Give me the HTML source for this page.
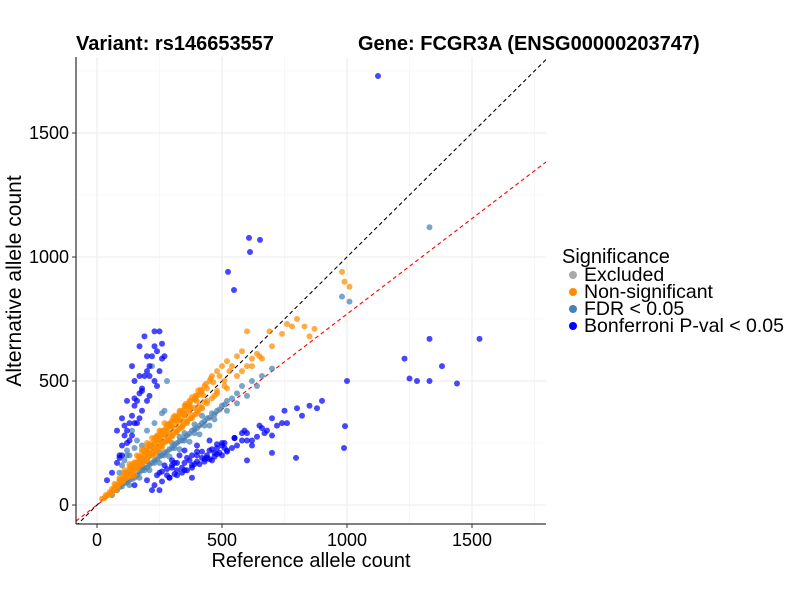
<!DOCTYPE html>
<html><head><meta charset="utf-8"><style>
body{margin:0;background:#fff;font-family:"Liberation Sans",sans-serif}
svg text{font-family:"Liberation Sans",sans-serif}
</style></head><body>
<svg id="chart" width="800" height="600" xmlns="http://www.w3.org/2000/svg">
<rect width="800" height="600" fill="#fff"/>
<g id="grid"></g>
<g id="lines"></g>
<g id="pts"></g>
<g id="axes"></g>
<text x="76" y="50" font-size="20" font-weight="bold">Variant: rs146653557</text>
<text x="358" y="50" font-size="20" font-weight="bold">Gene: FCGR3A (ENSG00000203747)</text>
<text x="311" y="567" font-size="20" text-anchor="middle">Reference allele count</text>
<text transform="translate(21,281) rotate(-90)" font-size="21" text-anchor="middle">Alternative allele count</text>
<g>
<text x="562" y="263" font-size="20">Significance</text>
<g><circle cx="573" cy="275" r="4" fill="#A9A9A9"/><text x="584" y="281" font-size="19.5">Excluded</text></g>
<g><circle cx="573" cy="292" r="4" fill="#FF8C00"/><text x="584" y="298" font-size="19.5">Non-significant</text></g>
<g><circle cx="573" cy="309" r="4" fill="#4682B4"/><text x="584" y="315" font-size="19.5">FDR &lt; 0.05</text></g>
<g><circle cx="573" cy="326" r="4" fill="#0000FF"/><text x="584" y="332" font-size="19.5">Bonferroni P-val &lt; 0.05</text></g>
</g>
</svg>
<script>
const xTicks=[0,500,1000,1500];
const yTicks=[0,500,1000,1500];
const minorTicks=[250,750,1250,1750];
const redSlope=0.77;
const orangeRef=[20,30,35,40,50,55,60,70,75,80,90,95,100,105,110,115,120,125,130,135,140,145,150,155,160,165,170,175,180,185,190,195,200,205,210,215,220,225,230,235,240,245,250,255,260,265,270,275,280,285,290,295,300,305,310,315,320,325,330,335,340,345,350,355,360,365,370,380,390,400,410,420,430,440,160,180,200,220,250,270,300,130,110,240,330,370,430,450,460,480,500,520,540,560,580,600,620,650,690,760,780,800,830,850,870,980,990,1010,560,600,640,400,420,350,310,290,260,150,80,60,140,200,230,
 45,65,85,100,120,140,160,175,190,210,225,240,255,270,285,300,315,330,345,360,375,390,405,420,440,460,480,
 70,90,110,130,150,170,190,210,230,250,270,290,310,330,350,370,390,410,
 100,120,140,160,180,200,220,240,260,280,300,320,340,360,380,400,
 140,165,190,215,240,265,290,315,340,365,390,415,440,465,490,510,530,
 120,145,170,195,220,245,270,295,320,345,370,395,
 90,115,135,155,175,195,215,235,255,275,295,315,335,355,375,395,415,435,455,
 105,125,150,175,200,225,250,275,300,325,350,375,400,425,
 180,205,230,255,280,305,330,355,380,405,200,240,280,320,360,
 580,620,660,700,740,520,470,510,480];
const orangeAlt=[25,28,40,38,52,48,65,68,80,75,95,88,105,98,118,108,125,115,140,128,150,135,160,145,170,155,182,165,190,172,200,185,215,195,222,205,235,212,245,222,255,232,262,240,275,250,282,258,295,268,300,278,315,285,322,295,335,305,340,315,352,325,362,335,372,345,380,360,392,380,400,390,415,420,200,225,250,270,300,330,340,165,140,280,370,420,480,500,520,540,560,580,560,600,620,700,590,600,700,730,720,750,720,680,710,940,900,880,520,560,610,440,460,400,360,260,230,120,60,45,115,180,200,
 40,60,78,92,112,130,148,162,178,196,210,224,238,252,266,280,294,308,322,336,350,364,378,392,410,430,450,
 85,108,130,152,172,195,215,238,258,280,300,322,342,365,385,405,425,445,
 95,112,130,148,165,185,202,220,240,258,276,295,312,330,350,368,
 165,195,222,248,275,300,328,355,380,405,430,455,470,495,520,500,540,
 130,155,182,210,235,262,290,318,345,372,398,425,
 100,128,150,172,195,218,240,262,285,308,330,352,375,398,420,442,465,488,510,
 112,132,160,185,212,238,262,290,315,340,365,392,418,442,
 215,242,270,298,325,352,380,408,435,462,230,275,315,355,400,
 540,560,590,640,690,470,440,480,460];
const fdrRef=[60,80,100,120,140,160,180,200,220,240,260,280,300,320,340,360,380,400,420,440,460,480,500,520,540,560,580,620,660,700,980,1010,1330,100,130,150,200,260,280,220,120,90,300,350,250,200,180,330,420,390,
 70,90,110,130,150,170,190,210,230,250,270,290,310,330,350,370,390,410,430,450,470,490,510,
 130,170,210,250,290,330,370,410,450,120,160,140,110,180,230,270,
 150,190,230,270,310,350,390,430,470,520,560,600,640];
const fdrAlt=[40,60,75,90,105,120,140,150,170,185,200,215,230,250,260,280,300,310,330,350,370,380,400,420,430,450,480,500,520,550,840,820,1120,160,200,230,300,370,500,560,200,130,250,290,210,175,155,275,360,325,
 60,72,88,102,118,132,150,162,180,195,210,225,242,258,272,288,305,320,338,352,365,385,405,
 80,110,140,170,195,225,255,285,320,220,260,300,180,240,330,380,
 110,140,170,200,230,260,290,320,345,380,410,440,480];
const bonfRef=[40,60,80,90,100,110,120,130,140,150,160,170,180,190,200,210,220,230,240,250,260,230,190,170,140,150,120,100,80,608,652,612,524,548,150,200,250,300,350,400,450,500,550,600,650,700,750,800,850,900,220,280,320,380,420,460,500,540,580,620,680,720,760,820,880,350,300,400,450,480,600,700,380,992,988,1000,1124,1250,1280,1330,1330,1380,1440,1530,1230,796,
 130,160,180,210,240,260,200,170,150,120,110,90,
 230,260,290,320,340,360,380,410,430,450,470,490,520,560,600,640,670,270,310,330,370,400,440,480,510,550,590,250,290,
 240,260,280,300,320,340,360,380,400,420,440,460,480,500,520,310,350,390,430,470,510,550,580,620,660,700,740,
 100,140,170,200,230,270,180,210,150,250];
const bonfAlt=[100,130,170,200,240,280,300,330,360,400,420,450,470,520,540,560,600,640,620,700,650,700,680,640,560,500,420,350,300,1077,1069,1020,940,867,80,100,130,150,170,200,220,250,270,290,320,350,380,390,400,420,60,120,140,160,190,180,200,230,260,240,300,320,330,360,390,220,180,240,260,230,180,210,110,318,230,500,1730,510,500,670,500,560,490,670,590,190,
 260,330,380,440,480,590,600,520,430,250,320,190,
 80,95,110,120,130,140,150,165,175,185,195,210,215,240,260,275,290,160,170,200,180,215,200,245,230,270,300,60,110,
 120,135,145,160,170,150,190,200,175,215,190,225,205,240,220,125,140,165,185,210,250,270,290,260,310,280,330,
 200,280,350,420,500,600,460,520,330,540];
const NS='http://www.w3.org/2000/svg';
const L=76,R=546,T=57,B=524;
const sx=v=>97+v*0.25, sy=v=>505-v*0.248;
const xMin=-84,xMax=1796;
function el(t,a,p){const e=document.createElementNS(NS,t);for(const k in a)e.setAttribute(k,a[k]);p.appendChild(e);return e;}
const grid=document.getElementById('grid');
minorTicks.forEach(v=>{
 const a=el('line',{x1:sx(v),x2:sx(v),y1:T,y2:B,stroke:'#f2f2f2','stroke-width':0.6},grid);
 
 
 const b=el('line',{x1:L,x2:R,y1:sy(v),y2:sy(v),stroke:'#f2f2f2','stroke-width':0.6},grid);
 
 
});
xTicks.forEach(v=>{
 const a=el('line',{x1:sx(v),x2:sx(v),y1:T,y2:B,stroke:'#ebebeb','stroke-width':1.1},grid);
 
 
});
yTicks.forEach(v=>{
 const b=el('line',{x1:L,x2:R,y1:sy(v),y2:sy(v),stroke:'#ebebeb','stroke-width':1.1},grid);
 
 
});
const lines=document.getElementById('lines');
const cp=el('clipPath',{id:'cp'},lines);el('rect',{x:L,y:T,width:R-L,height:B-T},cp);
const d1=el('line',{x1:sx(xMin),y1:sy(xMin),x2:sx(xMax),y2:sy(xMax),stroke:'#000','stroke-width':1.1,'stroke-dasharray':'4,3','clip-path':'url(#cp)'},lines);


const d2=el('line',{x1:sx(xMin),y1:sy(xMin*redSlope),x2:sx(xMax),y2:sy(xMax*redSlope),stroke:'#ff0000','stroke-width':1.1,'stroke-dasharray':'4,3','clip-path':'url(#cp)'},lines);


const pts=document.getElementById('pts');
function series(xs,ys,col,name){xs.forEach((x,i)=>{const c=el('circle',{cx:sx(x),cy:sy(ys[i]),r:3,fill:col,'fill-opacity':0.72},pts);
 
 });}
series(fdrRef,fdrAlt,'#4682B4','point-fdr');
series(orangeRef,orangeAlt,'#FF8C00','point-non-significant');
series(bonfRef,bonfAlt,'#0000FF','point-bonferroni');
const axes=document.getElementById('axes');
el('line',{x1:L,x2:L,y1:T,y2:B,stroke:'#000','stroke-width':1},axes);
el('line',{x1:L,x2:R,y1:B,y2:B,stroke:'#000','stroke-width':1},axes);
xTicks.forEach(v=>{el('line',{x1:sx(v),x2:sx(v),y1:B,y2:B+4,stroke:'#333'},axes);
 const t=el('text',{x:sx(v),y:B+22,'font-size':18,'text-anchor':'middle',fill:'#000'},axes);t.textContent=v;
 
 });
yTicks.forEach(v=>{el('line',{x1:L-4,x2:L,y1:sy(v),y2:sy(v),stroke:'#333'},axes);
 const t=el('text',{x:L-7,y:sy(v)+6,'font-size':18,'text-anchor':'end',fill:'#000'},axes);t.textContent=v;
 
 });
</script>
</body></html>
